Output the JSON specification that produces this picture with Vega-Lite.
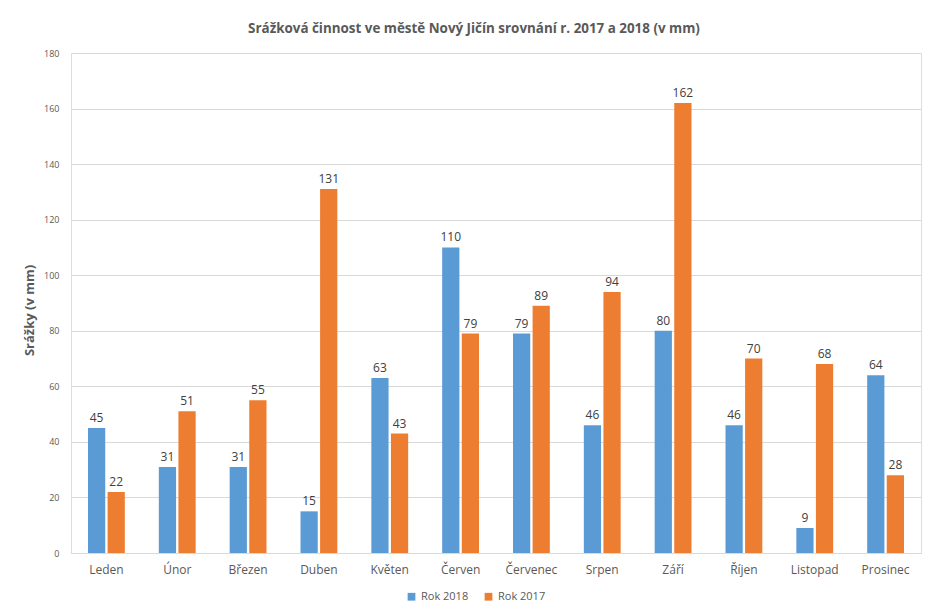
{
  "$schema": "https://vega.github.io/schema/vega-lite/v6.json",
  "autosize": "none",
  "width": 850,
  "height": 500,
  "padding": {"left": 71, "top": 53, "right": 9, "bottom": 54},
  "background": "white",
  "title": {
    "text": "Srážková činnost ve městě Nový Jičín srovnání r. 2017 a 2018 (v mm)",
    "font": "Open Sans",
    "fontSize": 13.4,
    "fontWeight": "bold",
    "color": "#595959",
    "anchor": "middle",
    "dx": -22,
    "offset": 14
  },
  "data": {
    "values": [
      {"mesic": "Leden", "rok": "Rok 2018", "mm": 45},
      {"mesic": "Leden", "rok": "Rok 2017", "mm": 22},
      {"mesic": "Únor", "rok": "Rok 2018", "mm": 31},
      {"mesic": "Únor", "rok": "Rok 2017", "mm": 51},
      {"mesic": "Březen", "rok": "Rok 2018", "mm": 31},
      {"mesic": "Březen", "rok": "Rok 2017", "mm": 55},
      {"mesic": "Duben", "rok": "Rok 2018", "mm": 15},
      {"mesic": "Duben", "rok": "Rok 2017", "mm": 131},
      {"mesic": "Květen", "rok": "Rok 2018", "mm": 63},
      {"mesic": "Květen", "rok": "Rok 2017", "mm": 43},
      {"mesic": "Červen", "rok": "Rok 2018", "mm": 110},
      {"mesic": "Červen", "rok": "Rok 2017", "mm": 79},
      {"mesic": "Červenec", "rok": "Rok 2018", "mm": 79},
      {"mesic": "Červenec", "rok": "Rok 2017", "mm": 89},
      {"mesic": "Srpen", "rok": "Rok 2018", "mm": 46},
      {"mesic": "Srpen", "rok": "Rok 2017", "mm": 94},
      {"mesic": "Září", "rok": "Rok 2018", "mm": 80},
      {"mesic": "Září", "rok": "Rok 2017", "mm": 162},
      {"mesic": "Říjen", "rok": "Rok 2018", "mm": 46},
      {"mesic": "Říjen", "rok": "Rok 2017", "mm": 70},
      {"mesic": "Listopad", "rok": "Rok 2018", "mm": 9},
      {"mesic": "Listopad", "rok": "Rok 2017", "mm": 68},
      {"mesic": "Prosinec", "rok": "Rok 2018", "mm": 64},
      {"mesic": "Prosinec", "rok": "Rok 2017", "mm": 28}
    ]
  },
  "encoding": {
    "x": {
      "field": "mesic",
      "type": "nominal",
      "sort": null,
      "scale": {"paddingInner": 0.48, "paddingOuter": 0.24},
      "axis": {
        "title": null,
        "labelAngle": 0,
        "labelFont": "Open Sans",
        "labelFontSize": 12,
        "labelColor": "#595959",
        "labelPadding": 11,
        "ticks": false,
        "domainColor": "#d9d9d9",
        "grid": false
      }
    },
    "xOffset": {
      "field": "rok",
      "type": "nominal",
      "sort": ["Rok 2018", "Rok 2017"],
      "scale": {"paddingInner": 0.12}
    },
    "y": {
      "field": "mm",
      "type": "quantitative",
      "scale": {"domain": [0, 180]},
      "axis": {
        "title": "Srážky (v mm)",
        "titleFont": "Open Sans",
        "titleFontSize": 13,
        "titleFontWeight": "bold",
        "titleColor": "#595959",
        "titlePadding": 7,
        "titleY": 257,
        "values": [0, 20, 40, 60, 80, 100, 120, 140, 160, 180],
        "labelFont": "Open Sans",
        "labelFontSize": 9,
        "labelColor": "#595959",
        "labelPadding": 12,
        "ticks": false,
        "domain": false,
        "gridColor": "#d9d9d9"
      }
    }
  },
  "layer": [
    {
      "mark": {"type": "bar"},
      "encoding": {
        "color": {
          "field": "rok",
          "type": "nominal",
          "sort": ["Rok 2018", "Rok 2017"],
          "scale": {"domain": ["Rok 2018", "Rok 2017"], "range": ["#5B9BD5", "#ED7D31"]},
          "legend": {
            "title": null,
            "orient": "none",
            "legendX": 335,
            "legendY": 538,
            "direction": "horizontal",
            "symbolType": "square",
            "symbolSize": 60,
            "labelFont": "Open Sans",
            "labelFontSize": 11,
            "labelColor": "#595959",
            "columnPadding": 14
          }
        }
      }
    },
    {
      "mark": {"type": "text", "dy": -10, "font": "Open Sans", "fontSize": 12, "color": "#404040"},
      "encoding": {"text": {"field": "mm", "type": "quantitative"}}
    }
  ]
}
